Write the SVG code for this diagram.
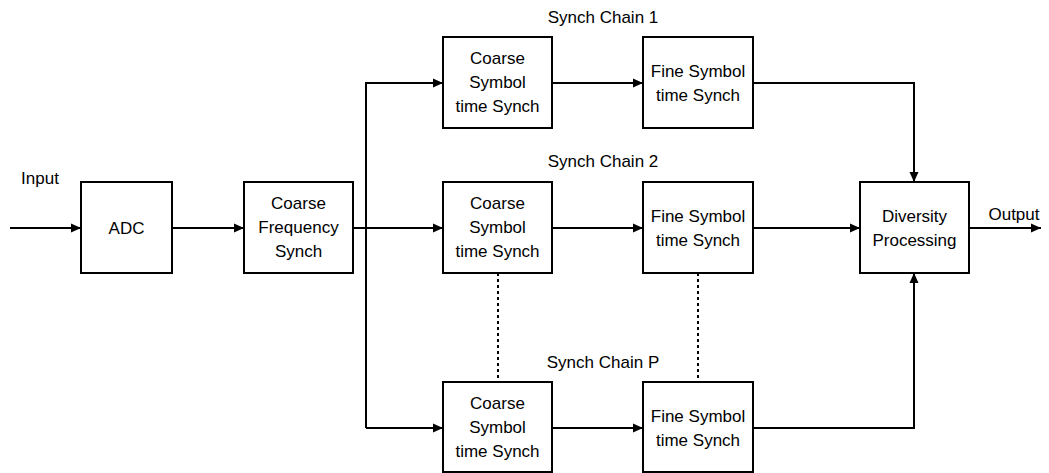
<svg xmlns="http://www.w3.org/2000/svg" width="1049" height="473" viewBox="0 0 1049 473">
<style>
.box{fill:#fff;stroke:#000;stroke-width:2}
.t{font-family:"Liberation Sans",Arial,sans-serif;font-size:17px;fill:#000;text-anchor:middle}
.l{fill:none;stroke:#000;stroke-width:2}
.d{fill:none;stroke:#000;stroke-width:2;stroke-dasharray:3 3}
</style>
<defs>
<marker id="a" markerUnits="userSpaceOnUse" markerWidth="10" markerHeight="10" refX="10" refY="5" orient="auto">
<path d="M0,0.5 L10,5 L0,9.5 z" fill="#000"/>
</marker>
</defs>
<rect width="1049" height="473" fill="#fff"/>
<g id="connectors">
<path class="l" d="M10,228 H81" marker-end="url(#a)"/>
<path class="l" d="M172,228 H244" marker-end="url(#a)"/>
<path class="l" d="M353,228 H443" marker-end="url(#a)"/>
<path class="l" d="M366,428 V83 H443" marker-end="url(#a)"/>
<path class="l" d="M366,428 H443" marker-end="url(#a)"/>
<path class="l" d="M552,83 H643" marker-end="url(#a)"/>
<path class="l" d="M552,228 H643" marker-end="url(#a)"/>
<path class="l" d="M552,428 H643" marker-end="url(#a)"/>
<path class="l" d="M753,83 H914 V182" marker-end="url(#a)"/>
<path class="l" d="M753,228 H860" marker-end="url(#a)"/>
<path class="l" d="M753,428 H914 V273" marker-end="url(#a)"/>
<path class="l" d="M969,228 H1041" marker-end="url(#a)"/>
<path class="d" d="M498,273 V382"/>
<path class="d" d="M698,273 V382"/>
</g>
<g id="adc"><rect class="box" x="81" y="182" width="91" height="91"/><text class="t" x="126.5" y="234">ADC</text></g>
<g id="cfs"><rect class="box" x="244" y="182" width="109" height="91"/><text class="t" x="298.5" y="209">Coarse</text><text class="t" x="298.5" y="233">Frequency</text><text class="t" x="298.5" y="257">Synch</text></g>
<g id="cs1"><rect class="box" x="443" y="37" width="109" height="91"/><text class="t" x="497.5" y="64">Coarse</text><text class="t" x="497.5" y="88">Symbol</text><text class="t" x="497.5" y="112">time Synch</text></g>
<g id="fs1"><rect class="box" x="643" y="37" width="110" height="91"/><text class="t" x="698" y="77">Fine Symbol</text><text class="t" x="698" y="101">time Synch</text></g>
<g id="cs2"><rect class="box" x="443" y="182" width="109" height="91"/><text class="t" x="497.5" y="209">Coarse</text><text class="t" x="497.5" y="233">Symbol</text><text class="t" x="497.5" y="257">time Synch</text></g>
<g id="fs2"><rect class="box" x="643" y="182" width="110" height="91"/><text class="t" x="698" y="222">Fine Symbol</text><text class="t" x="698" y="246">time Synch</text></g>
<g id="csp"><rect class="box" x="443" y="382" width="109" height="90"/><text class="t" x="497.5" y="409">Coarse</text><text class="t" x="497.5" y="433">Symbol</text><text class="t" x="497.5" y="457">time Synch</text></g>
<g id="fsp"><rect class="box" x="643" y="382" width="110" height="90"/><text class="t" x="698" y="422">Fine Symbol</text><text class="t" x="698" y="446">time Synch</text></g>
<g id="div"><rect class="box" x="860" y="182" width="109" height="91"/><text class="t" x="914.5" y="222">Diversity</text><text class="t" x="914.5" y="246">Processing</text></g>
<g id="labels">
<text class="t" x="603" y="23">Synch Chain 1</text>
<text class="t" x="603" y="167">Synch Chain 2</text>
<text class="t" x="603" y="368">Synch Chain P</text>
<text class="t" x="40" y="184">Input</text>
<text class="t" x="1014" y="220">Output</text>
</g>
</svg>
